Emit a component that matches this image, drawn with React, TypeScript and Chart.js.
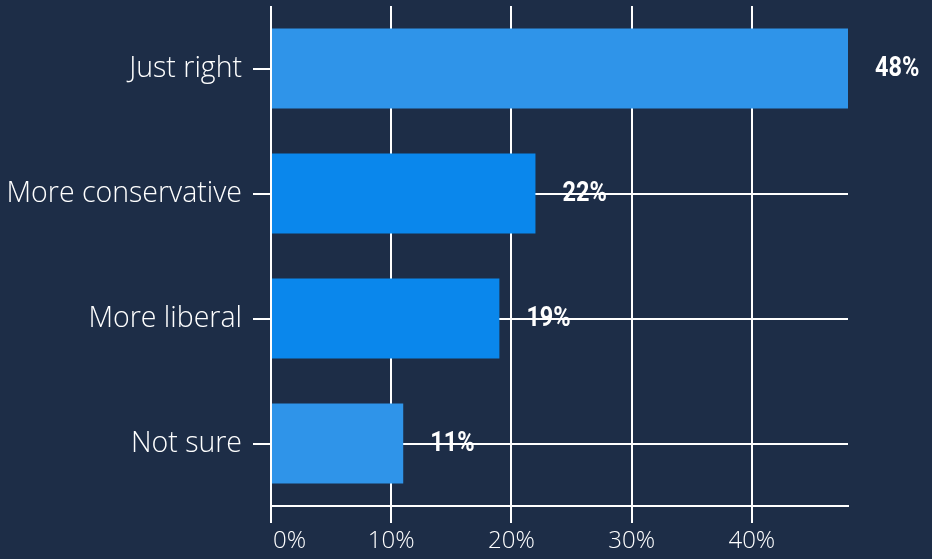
import React, { useEffect, useRef } from "react";
import { Chart, registerables } from "chart.js";

Chart.register(...registerables);

const categories = ["Just right", "More conservative", "More liberal", "Not sure"];
const values = [48, 22, 19, 11];
const barColors = ["#2f94e9", "#0a87ec", "#0a87ec", "#2f94e9"];
const xTicks = [0, 10, 20, 30, 40];

const BG = "#1d2d47";
const LABEL_FONT = "'Open Sans', Lato, sans-serif";

export default function App() {
  const ref = useRef<HTMLCanvasElement | null>(null);

  useEffect(() => {
    document.body.style.margin = "0";
    document.body.style.background = BG;
    const canvas = ref.current;
    if (!canvas) return;

    const valueLabels = {
      id: "valueLabels",
      afterDatasetsDraw(chart: any) {
        const ctx = chart.ctx;
        const meta = chart.getDatasetMeta(0);
        ctx.save();
        ctx.font = "bold 27px Roboto, sans-serif";
        ctx.fillStyle = "#ffffff";
        ctx.textAlign = "left";
        ctx.textBaseline = "middle";
        meta.data.forEach((bar: any, i: number) => {
          ctx.save();
          ctx.translate(bar.x + 27, bar.y + 1);
          ctx.scale(0.87, 1);
          ctx.fillText(values[i] + "%", 0, 0);
          ctx.restore();
        });
        ctx.restore();
      },
    };

    const xLabels = {
      id: "xLabels",
      afterDraw(chart: any) {
        const ctx = chart.ctx;
        const xs = chart.scales.x;
        ctx.save();
        ctx.font = "300 24px " + LABEL_FONT;
        ctx.fillStyle = "#ffffff";
        ctx.textBaseline = "middle";
        xTicks.forEach((v) => {
          const px = xs.getPixelForValue(v);
          if (v === 0) {
            ctx.textAlign = "left";
            ctx.fillText(v + "%", px + 2, 541);
          } else {
            ctx.textAlign = "center";
            ctx.fillText(v + "%", px, 541);
          }
        });
        ctx.restore();
      },
    };

    const chart = new Chart(canvas, {
      type: "bar",
      data: {
        labels: categories,
        datasets: [
          {
            data: values,
            backgroundColor: barColors,
            borderWidth: 0,
            barPercentage: 0.8,
            categoryPercentage: 0.8,
          },
        ],
      },
      options: {
        indexAxis: "y",
        animation: false,
        responsive: false,
        maintainAspectRatio: false,
        layout: { padding: { top: 6, right: 84, left: 0, bottom: 0 } },
        plugins: {
          legend: { display: false },
          tooltip: { enabled: false },
        },
        scales: {
          x: {
            type: "linear",
            min: 0,
            max: 48,
            ticks: { stepSize: 10, includeBounds: false, display: false },
            grid: {
              color: "#ffffff",
              lineWidth: 2,
              tickLength: 17,
              drawTicks: true,
            },
            border: { display: true, color: "#ffffff", width: 2 },
            afterFit: (scale: any) => {
              scale.height = 53;
              scale.paddingLeft = 0;
              scale.paddingRight = 0;
            },
          },
          y: {
            type: "category",
            grid: {
              color: "#ffffff",
              lineWidth: 2,
              offset: false,
              tickLength: 18,
            },
            border: { display: false },
            ticks: {
              color: "#ffffff",
              padding: 11,
              font: { family: LABEL_FONT, size: 28.5, weight: 300 as any },
            },
            afterFit: (scale: any) => {
              scale.width = 271;
              scale.paddingTop = 0;
              scale.paddingBottom = 0;
            },
          },
        },
      },
      plugins: [valueLabels, xLabels],
    });

    return () => chart.destroy();
  }, []);

  return (
    <div style={{ width: 932, height: 559, background: BG }}>
      <canvas ref={ref} width={932} height={559} style={{ display: "block" }} />
    </div>
  );
}
